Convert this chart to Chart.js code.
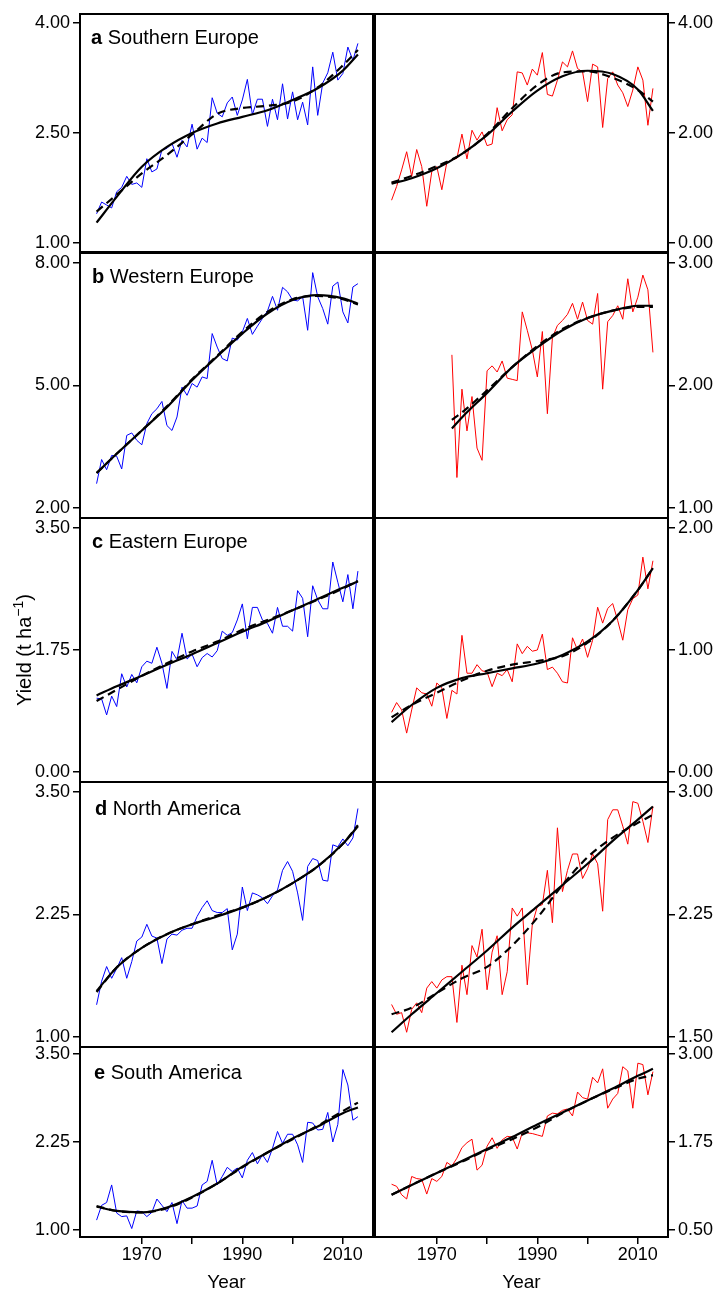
<!DOCTYPE html>
<html><head><meta charset="utf-8">
<script src="https://cdn.jsdelivr.net/npm/chart.js@4.4.1/dist/chart.umd.min.js"></script>
<style>
html,body{margin:0;padding:0;background:#fff;}
#wrap{position:relative;width:717px;height:1294px;overflow:hidden;background:#fff;}
#wrap canvas{position:absolute;}
</style></head><body><div id="wrap"></div>
<script>
// ---------------- DATA ----------------
const years = [1961,1962,1963,1964,1965,1966,1967,1968,1969,1970,
  1971,1972,1973,1974,1975,1976,1977,1978,1979,1980,
  1981,1982,1983,1984,1985,1986,1987,1988,1989,1990,
  1991,1992,1993,1994,1995,1996,1997,1998,1999,2000,
  2001,2002,2003,2004,2005,2006,2007,2008,2009,2010,
  2011,2012,2013];
const yearsWesternRight = [1973,1974,1975,1976,1977,1978,1979,1980,
  1981,1982,1983,1984,1985,1986,1987,1988,1989,1990,
  1991,1992,1993,1994,1995,1996,1997,1998,1999,2000,
  2001,2002,2003,2004,2005,2006,2007,2008,2009,2010,
  2011,2012,2013];
const fitYears = [1961,1965,1970,1975,1980,1985,1990,1995,2000,2005,2010,2013];
const fitYearsWesternRight = [1973,1975,1980,1985,1990,1995,2000,2005,2010,2013];

const xTickValues = [1970,1980,1990,2000,2010];
const xTickLabels = ['1970','','1990','','2010'];

// a Southern Europe
const southernLeft = [1.40,1.56,1.52,1.48,1.70,1.76,1.91,1.80,1.82,1.76,
  2.15,1.97,2.01,2.27,2.29,2.36,2.17,2.40,2.31,2.62,
  2.28,2.43,2.37,2.98,2.77,2.72,2.91,2.99,2.74,2.95,
  3.23,2.75,2.96,2.96,2.59,2.96,2.68,3.17,2.69,3.06,
  2.68,2.92,2.61,3.40,2.74,3.18,3.32,3.60,3.22,3.31,
  3.67,3.49,3.72];
const southernLeftFit = [1.28,1.63,2.04,2.31,2.50,2.63,2.72,2.81,2.95,3.11,3.35,3.57];
const southernLeftDash = [1.43,1.66,1.95,2.20,2.48,2.76,2.84,2.87,2.93,3.12,3.42,3.63];
const southernRight = [0.78,1.03,1.33,1.66,1.21,1.70,1.39,0.67,1.30,1.39,
  0.97,1.47,1.51,1.54,1.98,1.53,2.05,1.87,2.02,1.77,
  1.80,2.46,2.04,2.24,2.33,3.11,3.09,2.87,3.16,3.05,
  3.46,2.70,2.67,2.96,3.29,3.20,3.49,3.17,3.11,2.57,
  3.25,3.20,2.10,2.99,3.11,2.87,2.73,2.48,2.78,3.20,
  2.96,2.14,2.81];
const southernRightFit = [1.08,1.18,1.36,1.62,1.96,2.39,2.77,3.03,3.13,3.07,2.79,2.40];
const southernRightDash = [1.10,1.22,1.40,1.62,1.98,2.45,2.87,3.10,3.12,3.00,2.78,2.57];

// b Western Europe
const westernLeft = [2.60,3.19,2.94,3.29,3.27,2.96,3.78,3.84,3.66,3.55,
  4.07,4.31,4.43,4.61,4.02,3.90,4.23,4.96,4.76,5.05,
  4.96,5.21,5.17,6.27,5.94,5.66,5.60,6.16,6.11,6.31,
  6.64,6.25,6.45,6.64,6.82,7.18,6.84,7.40,7.29,7.09,
  7.07,7.17,6.35,7.76,7.17,6.88,6.50,7.43,7.53,6.80,
  6.53,7.41,7.49];
const westernLeftFit = [2.86,3.33,3.90,4.47,5.13,5.71,6.27,6.76,7.09,7.21,7.13,7.00];
const westernLeftDash = [2.86,3.33,3.90,4.49,5.15,5.73,6.31,6.80,7.11,7.19,7.11,6.98];
const westernRight = [2.25,1.25,1.97,1.63,1.91,1.49,1.39,2.12,2.16,2.11,
  2.20,2.06,2.05,2.04,2.60,2.45,2.29,2.07,2.44,1.77,
  2.39,2.49,2.53,2.58,2.67,2.54,2.68,2.53,2.50,2.75,
  1.97,2.52,2.57,2.65,2.54,2.87,2.60,2.72,2.90,2.78,
  2.27];
const westernRightFit = [1.65,1.74,1.94,2.15,2.31,2.45,2.55,2.61,2.65,2.65];
const westernRightDash = [1.72,1.78,1.96,2.15,2.32,2.46,2.55,2.61,2.64,2.64];

// c Eastern Europe
const easternLeft = [1.06,1.05,0.82,1.09,0.94,1.41,1.22,1.40,1.28,1.51,
  1.59,1.56,1.79,1.56,1.20,1.73,1.61,1.99,1.62,1.69,
  1.51,1.64,1.70,1.65,1.74,2.02,1.96,2.00,2.18,2.41,
  1.91,2.36,2.36,2.18,2.13,1.99,2.36,2.09,2.09,2.02,
  2.60,2.49,1.94,2.67,2.47,2.34,2.34,3.01,2.72,2.44,
  2.83,2.34,2.88];
const easternLeftFit = [1.10,1.23,1.38,1.54,1.69,1.85,2.01,2.16,2.32,2.48,2.64,2.73];
const easternLeftDash = [1.02,1.18,1.38,1.56,1.73,1.87,2.04,2.18,2.32,2.47,2.63,2.74];
const easternRight = [0.49,0.57,0.51,0.32,0.51,0.69,0.65,0.64,0.54,0.73,
  0.69,0.44,0.67,0.64,1.12,0.81,0.81,0.88,0.83,0.82,
  0.70,0.81,0.79,0.84,0.74,1.05,0.97,1.03,0.99,1.00,
  1.13,0.84,0.86,0.81,0.74,0.73,1.10,1.00,1.09,0.94,
  1.08,1.35,1.22,1.34,1.38,1.24,1.08,1.33,1.42,1.45,
  1.76,1.50,1.73];
const easternRightFit = [0.41,0.55,0.69,0.77,0.81,0.85,0.89,0.96,1.07,1.24,1.49,1.67];
const easternRightDash = [0.45,0.55,0.65,0.75,0.83,0.88,0.91,0.95,1.06,1.24,1.49,1.67];

// d North America
const northLeft = [1.33,1.57,1.72,1.60,1.70,1.81,1.60,1.77,1.98,2.02,
  2.15,2.03,2.01,1.75,2.00,2.05,2.04,2.09,2.11,2.11,
  2.23,2.32,2.39,2.29,2.27,2.27,2.31,1.89,2.05,2.53,
  2.29,2.47,2.45,2.42,2.36,2.44,2.50,2.70,2.79,2.69,
  2.47,2.19,2.74,2.82,2.80,2.60,2.59,2.96,2.94,3.02,
  2.95,3.03,3.33];
const northLeftFit = [1.47,1.71,1.91,2.05,2.15,2.23,2.32,2.43,2.57,2.74,2.97,3.15];
const northLeftDash = [1.46,1.71,1.91,2.05,2.15,2.24,2.32,2.43,2.57,2.74,2.97,3.16];
const northRight = [1.70,1.64,1.65,1.53,1.67,1.71,1.65,1.80,1.84,1.80,
  1.85,1.87,1.87,1.59,1.94,1.76,2.06,1.99,2.16,1.79,
  2.02,2.12,1.76,1.90,2.29,2.24,2.29,1.82,2.19,2.30,
  2.31,2.52,2.20,2.78,2.39,2.52,2.62,2.62,2.47,2.53,
  2.62,2.56,2.27,2.83,2.89,2.89,2.79,2.68,2.94,2.93,
  2.82,2.69,2.91];
const northRightFit = [1.53,1.64,1.77,1.90,2.03,2.17,2.30,2.43,2.56,2.70,2.83,2.91];
const northRightDash = [1.64,1.68,1.77,1.86,1.93,2.06,2.23,2.43,2.60,2.72,2.81,2.86];

// e South America
const southLeft = [1.14,1.35,1.39,1.64,1.24,1.19,1.20,1.02,1.27,1.26,
  1.19,1.25,1.44,1.35,1.26,1.39,1.09,1.42,1.31,1.31,
  1.34,1.64,1.69,1.99,1.64,1.76,1.89,1.83,1.88,1.74,
  1.99,2.10,1.94,2.07,1.96,2.16,2.40,2.23,2.36,2.36,
  2.21,1.96,2.53,2.52,2.42,2.43,2.67,2.25,2.50,3.28,
  3.06,2.56,2.61];
const southLeftFit = [1.33,1.27,1.25,1.32,1.47,1.66,1.90,2.10,2.30,2.47,2.66,2.74];
const southLeftDash = [1.34,1.27,1.25,1.31,1.46,1.66,1.89,2.10,2.29,2.48,2.69,2.81];
const southRight = [1.15,1.12,1.00,0.94,1.26,1.23,1.22,1.01,1.23,1.19,
  1.26,1.46,1.41,1.52,1.67,1.74,1.79,1.35,1.42,1.69,
  1.81,1.66,1.78,1.83,1.82,1.65,1.88,1.88,1.87,1.85,
  1.83,2.12,2.16,2.15,2.20,2.22,2.12,2.46,2.38,2.36,
  2.67,2.59,2.79,2.23,2.36,2.44,2.82,2.76,2.23,2.87,
  2.85,2.42,2.75];
const southRightFit = [1.00,1.14,1.31,1.48,1.65,1.82,2.00,2.17,2.34,2.51,2.69,2.79];
const southRightDash = [1.00,1.14,1.31,1.47,1.64,1.79,1.96,2.16,2.34,2.50,2.65,2.70];

// y tick labels per panel
const southernLeftTicks = [1.00, 2.50, 4.00];
const southernRightTicks = [0.00, 2.00, 4.00];
const westernLeftTicks = [2.00, 5.00, 8.00];
const westernRightTicks = [1.00, 2.00, 3.00];
const easternLeftTicks = [0.00, 1.75, 3.50];
const easternRightTicks = [0.00, 1.00, 2.00];
const northLeftTicks = [1.00, 2.25, 3.50];
const northRightTicks = [1.50, 2.25, 3.00];
const southLeftTicks = [1.00, 2.25, 3.50];
const southRightTicks = [0.50, 1.75, 3.00];

const panelLetters = ['a','b','c','d','e'];
const panelNames = ['Southern Europe','Western Europe','Eastern Europe','North America','South America'];
const xTitle = 'Year';
const yTitleMain = 'Yield (t ha';
const yTitleSup = '\u22121';
const yTitleEnd = ')';

// ---------------- LAYOUT ----------------
const rowTop = [14, 253, 518, 782, 1047];
const rowBottom = [252, 518, 782, 1047, 1237];
const labelDx = [11, 12, 12, 15, 14];
const labelDy = [30, 30, 30, 33, 32];
const EXT = 16;
const FONT = '"Liberation Sans", Arial, Helvetica, sans-serif';

const rows = [
  {left:{x:years,y:southernLeft,fx:fitYears,fit:southernLeftFit,dash:southernLeftDash,ticks:southernLeftTicks},
   right:{x:years,y:southernRight,fx:fitYears,fit:southernRightFit,dash:southernRightDash,ticks:southernRightTicks}},
  {left:{x:years,y:westernLeft,fx:fitYears,fit:westernLeftFit,dash:westernLeftDash,ticks:westernLeftTicks},
   right:{x:yearsWesternRight,y:westernRight,fx:fitYearsWesternRight,fit:westernRightFit,dash:westernRightDash,ticks:westernRightTicks}},
  {left:{x:years,y:easternLeft,fx:fitYears,fit:easternLeftFit,dash:easternLeftDash,ticks:easternLeftTicks},
   right:{x:years,y:easternRight,fx:fitYears,fit:easternRightFit,dash:easternRightDash,ticks:easternRightTicks}},
  {left:{x:years,y:northLeft,fx:fitYears,fit:northLeftFit,dash:northLeftDash,ticks:northLeftTicks},
   right:{x:years,y:northRight,fx:fitYears,fit:northRightFit,dash:northRightDash,ticks:northRightTicks}},
  {left:{x:years,y:southLeft,fx:fitYears,fit:southLeftFit,dash:southLeftDash,ticks:southLeftTicks},
   right:{x:years,y:southRight,fx:fitYears,fit:southRightFit,dash:southRightDash,ticks:southRightTicks}}
];

Chart.defaults.font.family = FONT;
Chart.defaults.color = '#000';

const wrap = document.getElementById('wrap');
const pairs = (xs, ys) => xs.map((v, i) => ({x: v, y: ys[i]}));

function makePanel(r, side) {
  const p = rows[r][side];
  const isLeft = side === 'left';
  const last = r === 4;
  const top = rowTop[r] - EXT;
  const bottom = last ? 1294 : rowBottom[r] + EXT;
  const w = isLeft ? 376 : 345;
  const cv = document.createElement('canvas');
  cv.width = w; cv.height = bottom - top;
  cv.style.left = (isLeft ? 0 : 372) + 'px';
  cv.style.top = top + 'px';
  cv.style.width = w + 'px'; cv.style.height = (bottom - top) + 'px';
  wrap.appendChild(cv);

  const span = p.ticks[2] - p.ticks[0];
  const lineColor = isLeft ? '#0000ff' : '#ff0000';

  const panelPlugin = {
    id: 'panelDecor' + r + side,
    afterDraw(chart) {
      const a = chart.chartArea, c = chart.ctx;
      c.save();
      c.strokeStyle = '#000'; c.lineWidth = 2;
      c.strokeRect(a.left, a.top, a.right - a.left, a.bottom - a.top);
      if (isLeft) {
        c.fillStyle = '#000';
        c.textBaseline = 'alphabetic';
        c.textAlign = 'left';
        c.font = 'bold 20px ' + FONT;
        const lx = a.left + labelDx[r], ly = a.top + labelDy[r];
        c.fillText(panelLetters[r], lx, ly);
        const lw = c.measureText(panelLetters[r] + ' ').width;
        c.font = '20px ' + FONT;
        c.fillText(panelNames[r], lx + lw, ly);
        if (r === 2) {
          c.translate(24, (a.top + a.bottom) / 2);
          c.rotate(-Math.PI / 2);
          c.font = '20px ' + FONT;
          const w1 = c.measureText(yTitleMain).width;
          const w3 = c.measureText(yTitleEnd).width;
          c.font = '14px ' + FONT;
          const w2 = c.measureText(yTitleSup).width;
          let x0 = -(w1 + w2 + w3) / 2;
          c.font = '20px ' + FONT;
          c.fillText(yTitleMain, x0, 7);
          c.font = '14px ' + FONT;
          c.fillText(yTitleSup, x0 + w1, -1);
          c.font = '20px ' + FONT;
          c.fillText(yTitleEnd, x0 + w1 + w2, 7);
        }
      }
      c.restore();
    }
  };

  const xScale = {
    type: 'linear', min: 1957.7, max: 2016,
    display: last,
    afterBuildTicks: s => { s.ticks = xTickValues.map(v => ({value: v})); },
    border: {display: false},
    grid: {drawOnChartArea: false, drawTicks: true, tickLength: 7, color: '#000', lineWidth: 1.5},
    ticks: {
      padding: 0, font: {size: 18}, color: '#000', maxRotation: 0, autoSkip: false,
      callback: (v, i) => xTickLabels[i]
    },
    title: {display: true, text: xTitle, font: {size: 19}, color: '#000', padding: {top: 0, bottom: 0}}
  };
  if (last) xScale.afterFit = s => { s.height = 57; };

  new Chart(cv, {
    type: 'line',
    data: {
      datasets: [
        {data: pairs(p.fx, p.fit), borderColor: '#000', borderWidth: 2.2, pointRadius: 0,
         cubicInterpolationMode: 'monotone', tension: 0.4, fill: false},
        {data: pairs(p.fx, p.dash), borderColor: '#000', borderWidth: 2.2, borderDash: [8, 5], pointRadius: 0,
         cubicInterpolationMode: 'monotone', tension: 0.4, fill: false},
        {data: pairs(p.x, p.y), borderColor: lineColor, borderWidth: 1, pointRadius: 0, tension: 0, fill: false}
      ]
    },
    options: {
      responsive: false,
      devicePixelRatio: 1,
      animation: false,
      events: [],
      layout: {padding: {top: EXT, bottom: last ? 0 : EXT, left: isLeft ? 0 : 3, right: isLeft ? 3 : 0}},
      plugins: {legend: {display: false}, tooltip: {enabled: false}, title: {display: false}},
      scales: {
        x: xScale,
        y: {
          type: 'linear',
          position: isLeft ? 'left' : 'right',
          min: p.ticks[0] - 0.04 * span,
          max: p.ticks[2] + 0.04 * span,
          afterBuildTicks: s => { s.ticks = p.ticks.map(v => ({value: v})); },
          afterFit: s => { s.width = isLeft ? 80 : 49; },
          border: {display: false},
          grid: {drawOnChartArea: false, drawTicks: true, tickLength: 7, color: '#000', lineWidth: 1.5},
          ticks: {padding: 3, font: {size: 18}, color: '#000', autoSkip: false,
                  callback: v => Number(v).toFixed(2)}
        }
      }
    },
    plugins: [panelPlugin]
  });
}

for (let r = 0; r < 5; r++) { makePanel(r, 'left'); makePanel(r, 'right'); }
</script>
</body></html>
